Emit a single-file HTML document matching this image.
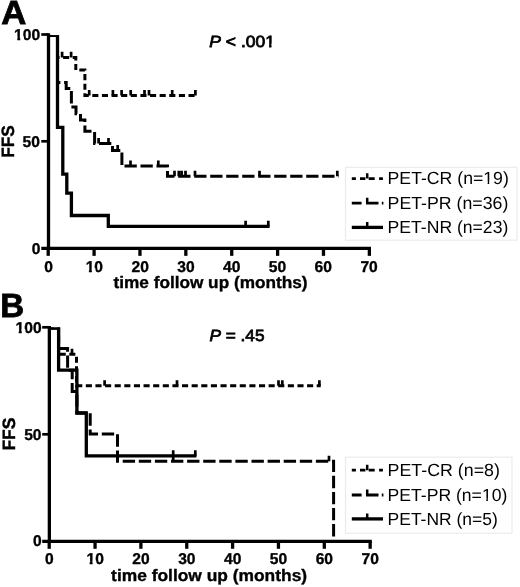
<!DOCTYPE html>
<html><head><meta charset="utf-8"><style>
html,body{margin:0;padding:0;background:#fff;}
body{width:520px;height:587px;overflow:hidden;}
svg{display:block;font-family:"Liberation Sans", sans-serif;filter:grayscale(1) blur(0.3px);text-rendering:geometricPrecision;}
</style></head><body>
<svg width="520" height="587" viewBox="0 0 520 587" fill="#000">
<defs><clipPath id="clA"><rect x="0" y="35.2" width="520" height="220"/></clipPath><clipPath id="clB"><rect x="0" y="327.5" width="520" height="220"/></clipPath></defs>
<path d="M48.5 33.2V250.1" stroke="#000" stroke-width="3.3" fill="none"/>
<path d="M41.3 248.45H371.01" stroke="#000" stroke-width="3.3" fill="none"/>
<path d="M41.3 34.5H48.5" stroke="#000" stroke-width="2.7" fill="none"/>
<path d="M41.3 141.3H48.5" stroke="#000" stroke-width="2.7" fill="none"/>
<path d="M48.2 248.45V255.85" stroke="#000" stroke-width="3.3" fill="none"/>
<path d="M94.08 248.45V255.85" stroke="#000" stroke-width="3.3" fill="none"/>
<path d="M139.96 248.45V255.85" stroke="#000" stroke-width="3.3" fill="none"/>
<path d="M185.84 248.45V255.85" stroke="#000" stroke-width="3.3" fill="none"/>
<path d="M231.72 248.45V255.85" stroke="#000" stroke-width="3.3" fill="none"/>
<path d="M277.6 248.45V255.85" stroke="#000" stroke-width="3.3" fill="none"/>
<path d="M323.48 248.45V255.85" stroke="#000" stroke-width="3.3" fill="none"/>
<path d="M369.36 248.45V255.85" stroke="#000" stroke-width="3.3" fill="none"/>
<g clip-path="url(#clA)">
<path d="M48.2 35.3H57.5V57.4H75.8V70H84.9V95.5H196.6" stroke="#000" stroke-width="3.0" fill="none" stroke-dasharray="6.1 3.52" stroke-dashoffset="1.52"/>
<path d="M62.1 57.4V51.8M71.1 57.4V51.8M89.2 95.5V89.9M112.9 95.5V89.9M121.6 95.5V89.9M130.7 95.5V89.9M144.5 95.5V89.9M149 95.5V89.9M172.2 95.5V89.9M195.4 95.5V89.9" stroke="#000" stroke-width="2.7" fill="none"/>
<path d="M48.2 35.3H57.5V82.4H66.2V88.5H71.4V107.1H76V113.8H80.5V119.9H84.9V131.3H94.6V143.5H112.5V150.5H121.9V166H167.5V176.3H338.6" stroke="#000" stroke-width="3.0" fill="none" stroke-dasharray="12.3 3.7" stroke-dashoffset="1"/>
<path d="M98.6 143.5V137.9M108.5 143.5V137.9M117.7 150.5V144.9M130.5 166V160.4M158.3 166V160.4M174.5 176.3V170.7M178.8 176.3V170.7M181.6 176.3V170.7M185.5 176.3V170.7M195 176.3V170.7M259.5 176.3V170.7M337.3 176.3V170.7" stroke="#000" stroke-width="2.7" fill="none"/>
<path d="M48.2 35.3H57.5V127.3H62.8V174.2H66.8V193.1H71.4V215.5H108.3V226.3H269.6" stroke="#000" stroke-width="3.3" fill="none"/>
<path d="M245.6 226.3V220.7M268.3 226.3V220.7" stroke="#000" stroke-width="2.7" fill="none"/>
</g>
<path d="M49.35 326V543.05" stroke="#000" stroke-width="3.3" fill="none"/>
<path d="M42.2 541.4H371.8" stroke="#000" stroke-width="3.3" fill="none"/>
<path d="M42.2 327.3H49.35" stroke="#000" stroke-width="2.7" fill="none"/>
<path d="M42.2 434.3H49.35" stroke="#000" stroke-width="2.7" fill="none"/>
<path d="M49.2 541.4V548.8" stroke="#000" stroke-width="3.3" fill="none"/>
<path d="M95.05 541.4V548.8" stroke="#000" stroke-width="3.3" fill="none"/>
<path d="M140.9 541.4V548.8" stroke="#000" stroke-width="3.3" fill="none"/>
<path d="M186.75 541.4V548.8" stroke="#000" stroke-width="3.3" fill="none"/>
<path d="M232.6 541.4V548.8" stroke="#000" stroke-width="3.3" fill="none"/>
<path d="M278.45 541.4V548.8" stroke="#000" stroke-width="3.3" fill="none"/>
<path d="M324.3 541.4V548.8" stroke="#000" stroke-width="3.3" fill="none"/>
<path d="M370.15 541.4V548.8" stroke="#000" stroke-width="3.3" fill="none"/>
<g clip-path="url(#clB)">
<path d="M49.4 328H58.6V354.3H76.5V385.85H320.7" stroke="#000" stroke-width="3.0" fill="none" stroke-dasharray="6.1 3.52" stroke-dashoffset="1.93"/>
<path d="M72 354.3V348.7M104.6 385.85V380.25M177 385.85V380.25M278.5 385.85V380.25M282.3 385.85V380.25M319.4 385.85V380.25" stroke="#000" stroke-width="2.7" fill="none"/>
<path d="M49.4 328H58.6V348.6H67.6V370.2H72.2V391.6H76.9V413H90.2V433.9H117.5V461.3H333.6V541" stroke="#000" stroke-width="3.0" fill="none" stroke-dasharray="12.35 3.75" stroke-dashoffset="2.7"/>
<path d="M173.2 461.3V455.7M329 461.3V455.7" stroke="#000" stroke-width="2.7" fill="none"/>
<path d="M49.4 328H58.6V370.2H76.9V413H86.3V455.85H196.5" stroke="#000" stroke-width="3.3" fill="none"/>
<path d="M173.2 455.85V450.25M195.3 455.85V450.25" stroke="#000" stroke-width="2.7" fill="none"/>
</g>
<text x="1.2" y="24.1" font-size="33.5" font-weight="bold" font-style="normal" text-anchor="start" textLength="25.1" lengthAdjust="spacingAndGlyphs" stroke="#000" stroke-width="0.8">A</text>
<text x="40.1" y="39.8" font-size="15.6" font-weight="bold" font-style="normal" text-anchor="end" stroke="#000" stroke-width="0.35">100</text>
<text x="39.9" y="146.8" font-size="15.6" font-weight="bold" font-style="normal" text-anchor="end" stroke="#000" stroke-width="0.35">50</text>
<text x="40.5" y="253.7" font-size="15.6" font-weight="bold" font-style="normal" text-anchor="end" stroke="#000" stroke-width="0.35">0</text>
<text x="48.6" y="271.8" font-size="15.6" font-weight="bold" font-style="normal" text-anchor="middle" stroke="#000" stroke-width="0.35">0</text>
<text x="94.38" y="271.8" font-size="15.6" font-weight="bold" font-style="normal" text-anchor="middle" stroke="#000" stroke-width="0.35">10</text>
<text x="140.16" y="271.8" font-size="15.6" font-weight="bold" font-style="normal" text-anchor="middle" stroke="#000" stroke-width="0.35">20</text>
<text x="185.94" y="271.8" font-size="15.6" font-weight="bold" font-style="normal" text-anchor="middle" stroke="#000" stroke-width="0.35">30</text>
<text x="231.72" y="271.8" font-size="15.6" font-weight="bold" font-style="normal" text-anchor="middle" stroke="#000" stroke-width="0.35">40</text>
<text x="277.5" y="271.8" font-size="15.6" font-weight="bold" font-style="normal" text-anchor="middle" stroke="#000" stroke-width="0.35">50</text>
<text x="323.28" y="271.8" font-size="15.6" font-weight="bold" font-style="normal" text-anchor="middle" stroke="#000" stroke-width="0.35">60</text>
<text x="369.06" y="271.8" font-size="15.6" font-weight="bold" font-style="normal" text-anchor="middle" stroke="#000" stroke-width="0.35">70</text>
<text transform="translate(13.5 141.4) rotate(-90)" font-size="17.8" font-weight="bold" stroke="#000" stroke-width="0.4" text-anchor="middle" textLength="32.5" lengthAdjust="spacingAndGlyphs">FFS</text>
<text x="113.5" y="288.3" font-size="16.6" font-weight="bold" font-style="normal" text-anchor="start" textLength="194" lengthAdjust="spacingAndGlyphs" stroke="#000" stroke-width="0.35">time follow up (months)</text>
<text x="0.2" y="316.9" font-size="33.5" font-weight="bold" font-style="normal" text-anchor="start" textLength="23.9" lengthAdjust="spacingAndGlyphs" stroke="#000" stroke-width="0.8">B</text>
<text x="41.6" y="332.7" font-size="15.6" font-weight="bold" font-style="normal" text-anchor="end" stroke="#000" stroke-width="0.35">100</text>
<text x="41.5" y="439.6" font-size="15.6" font-weight="bold" font-style="normal" text-anchor="end" stroke="#000" stroke-width="0.35">50</text>
<text x="41.7" y="546.4" font-size="15.6" font-weight="bold" font-style="normal" text-anchor="end" stroke="#000" stroke-width="0.35">0</text>
<text x="49.3" y="564.4" font-size="15.6" font-weight="bold" font-style="normal" text-anchor="middle" stroke="#000" stroke-width="0.35">0</text>
<text x="95.14" y="564.4" font-size="15.6" font-weight="bold" font-style="normal" text-anchor="middle" stroke="#000" stroke-width="0.35">10</text>
<text x="140.98" y="564.4" font-size="15.6" font-weight="bold" font-style="normal" text-anchor="middle" stroke="#000" stroke-width="0.35">20</text>
<text x="186.82" y="564.4" font-size="15.6" font-weight="bold" font-style="normal" text-anchor="middle" stroke="#000" stroke-width="0.35">30</text>
<text x="232.66" y="564.4" font-size="15.6" font-weight="bold" font-style="normal" text-anchor="middle" stroke="#000" stroke-width="0.35">40</text>
<text x="278.5" y="564.4" font-size="15.6" font-weight="bold" font-style="normal" text-anchor="middle" stroke="#000" stroke-width="0.35">50</text>
<text x="324.34" y="564.4" font-size="15.6" font-weight="bold" font-style="normal" text-anchor="middle" stroke="#000" stroke-width="0.35">60</text>
<text x="370.18" y="564.4" font-size="15.6" font-weight="bold" font-style="normal" text-anchor="middle" stroke="#000" stroke-width="0.35">70</text>
<text transform="translate(14.5 434.05) rotate(-90)" font-size="17.8" font-weight="bold" stroke="#000" stroke-width="0.4" text-anchor="middle" textLength="33.0" lengthAdjust="spacingAndGlyphs">FFS</text>
<text x="111.1" y="581" font-size="16.6" font-weight="bold" font-style="normal" text-anchor="start" textLength="196" lengthAdjust="spacingAndGlyphs" stroke="#000" stroke-width="0.35">time follow up (months)</text>
<text x="209.3" y="46.5" font-size="16.3" font-weight="normal" stroke="#000" stroke-width="0.8" textLength="65.6" lengthAdjust="spacingAndGlyphs"><tspan font-style="italic">P</tspan> &lt; .001</text>
<text x="209.5" y="341.2" font-size="16.3" font-weight="normal" stroke="#000" stroke-width="0.8" textLength="55" lengthAdjust="spacingAndGlyphs"><tspan font-style="italic">P</tspan> = .45</text>
<rect x="345.5" y="167.3" width="171.5" height="72.9" fill="none" stroke="#ebebeb" stroke-width="1.2"/>
<path d="M351.8 178.6H383" stroke="#000" stroke-width="2.8" fill="none" stroke-dasharray="4.1 4.1 5.4 3.3 6 4.4 3.8 10"/>
<path d="M351.8 203.1H383.4" stroke="#000" stroke-width="2.8" fill="none" stroke-dasharray="9.8 4.4 12.5 3.3 1.6 10"/>
<path d="M351.8 227.4H383" stroke="#000" stroke-width="3.3" fill="none"/>
<path d="M367.2 178.6V173.2M367.2 203.1V197.7M367.2 227.4V222" stroke="#000" stroke-width="2.5" fill="none"/>
<text x="387.6" y="184.4" font-size="17.6" font-weight="normal" textLength="121.2" lengthAdjust="spacingAndGlyphs">PET-CR (n=19)</text>
<text x="387.6" y="208.7" font-size="17.6" font-weight="normal" textLength="120.7" lengthAdjust="spacingAndGlyphs">PET-PR (n=36)</text>
<text x="387.6" y="232.5" font-size="17.6" font-weight="normal" textLength="120.7" lengthAdjust="spacingAndGlyphs">PET-NR (n=23)</text>
<rect x="345.5" y="457.2" width="166.5" height="76" fill="none" stroke="#ebebeb" stroke-width="1.2"/>
<path d="M351.8 470.2H383" stroke="#000" stroke-width="2.8" fill="none" stroke-dasharray="4.1 4.1 5.4 3.3 6 4.4 3.8 10"/>
<path d="M351.8 495H383.4" stroke="#000" stroke-width="2.8" fill="none" stroke-dasharray="9.8 4.4 12.5 3.3 1.6 10"/>
<path d="M351.8 518.9H383" stroke="#000" stroke-width="3.3" fill="none"/>
<path d="M367.2 470.2V464.8M367.2 495V489.6M367.2 518.9V513.5" stroke="#000" stroke-width="2.5" fill="none"/>
<text x="387.6" y="476.1" font-size="17.6" font-weight="normal" textLength="112.3" lengthAdjust="spacingAndGlyphs">PET-CR (n=8)</text>
<text x="387.6" y="500.7" font-size="17.6" font-weight="normal" textLength="119.7" lengthAdjust="spacingAndGlyphs">PET-PR (n=10)</text>
<text x="387.6" y="524.9" font-size="17.6" font-weight="normal" textLength="110.1" lengthAdjust="spacingAndGlyphs">PET-NR (n=5)</text>
<rect x="13.48" y="36.3" width="3.76" height="5.3" fill="#fff"/>
<rect x="20.27" y="36.3" width="3.53" height="5.3" fill="#fff"/>
<rect x="85.11" y="268.3" width="3.76" height="5.3" fill="#fff"/>
<rect x="91.9" y="268.3" width="3.53" height="5.3" fill="#fff"/>
<rect x="14.98" y="329.2" width="3.76" height="5.3" fill="#fff"/>
<rect x="21.77" y="329.2" width="3.53" height="5.3" fill="#fff"/>
<rect x="85.87" y="560.9" width="3.76" height="5.3" fill="#fff"/>
<rect x="92.66" y="560.9" width="3.53" height="5.3" fill="#fff"/>
<rect x="264.89" y="43.56" width="4.16" height="4.74" fill="#fff"/>
<rect x="271.54" y="43.56" width="3.98" height="4.74" fill="#fff"/>
<rect x="483.87" y="181.8" width="3.75" height="3.6" fill="#fff"/>
<rect x="489.23" y="181.8" width="3.57" height="3.6" fill="#fff"/>
<rect x="482.5" y="498.1" width="3.73" height="3.6" fill="#fff"/>
<rect x="487.83" y="498.1" width="3.56" height="3.6" fill="#fff"/>
</svg>
</body></html>
